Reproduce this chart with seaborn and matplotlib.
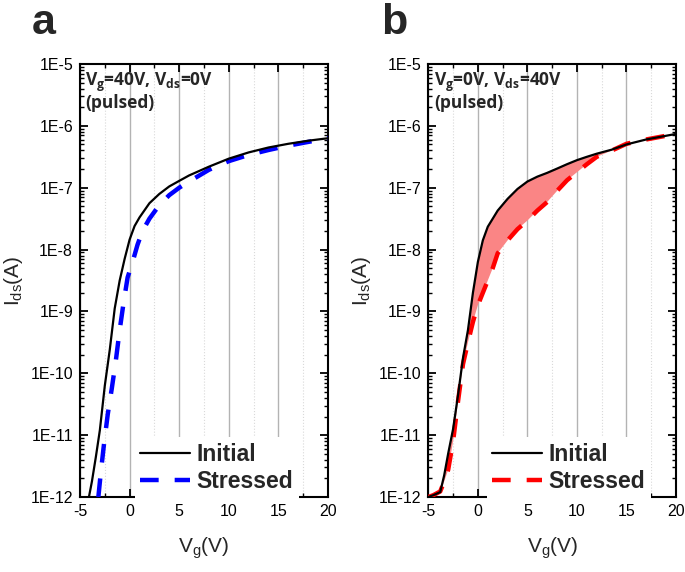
import numpy as np
import matplotlib
matplotlib.use("Agg")
import matplotlib.pyplot as plt
import matplotlib.ticker as mticker
import seaborn as sns

# ---------------- data ----------------
# Panel a: Vg=40V, Vds=0V (pulsed)
vg_a_initial = [-4.1, -3.8, -3.4, -3.0, -2.5, -2.0, -1.5, -1.0, -0.5, 0.0, 0.5, 1.0,
                2.0, 3.0, 4.0, 5.0, 6.0, 8.0, 10.0, 12.0, 14.0, 16.0, 18.0, 20.0]
ids_a_initial = [1.00e-12, 1.78e-12, 4.47e-12, 1.20e-11, 6.31e-11, 2.40e-10, 1.12e-9,
                 3.16e-9, 7.08e-9, 1.45e-8, 2.40e-8, 3.31e-8, 5.62e-8, 7.94e-8,
                 1.05e-7, 1.29e-7, 1.58e-7, 2.19e-7, 2.95e-7, 3.72e-7, 4.47e-7,
                 5.13e-7, 5.75e-7, 6.31e-7]
vg_a_stressed = [-3.15, -2.9, -2.6, -2.2, -1.8, -1.4, -1.0, -0.6, -0.2, 0.3, 0.8, 1.3,
                 2.0, 3.0, 4.0, 5.0, 6.0, 8.0, 10.0, 12.0, 14.0, 16.0, 18.0, 20.0]
ids_a_stressed = [1.00e-12, 2.51e-12, 6.76e-12, 2.19e-11, 5.62e-11, 1.55e-10, 5.01e-10,
                  1.41e-9, 3.55e-9, 6.31e-9, 1.20e-8, 2.00e-8, 3.16e-8, 5.25e-8,
                  7.59e-8, 1.00e-7, 1.26e-7, 1.95e-7, 2.69e-7, 3.39e-7, 4.07e-7,
                  4.79e-7, 5.50e-7, 6.31e-7]

# Panel b: Vg=0V, Vds=40V (pulsed)
vg_b = [-5.0, -4.5, -3.8, -3.4, -3.0, -2.5, -2.0, -1.5, -1.0, -0.5, 0.0, 0.5, 1.0, 1.5,
        2.0, 3.0, 4.0, 5.0, 6.0, 7.0, 8.0, 9.0, 10.0, 11.0, 12.0, 13.5, 15.0, 17.0, 20.0]
ids_b_initial = [1.00e-12, 1.07e-12, 1.20e-12, 2.24e-12, 5.01e-12, 1.26e-11, 4.47e-11,
                 1.78e-10, 5.01e-10, 2.00e-9, 6.31e-9, 1.41e-8, 2.34e-8, 3.16e-8,
                 4.27e-8, 6.61e-8, 9.55e-8, 1.26e-7, 1.51e-7, 1.74e-7, 2.04e-7,
                 2.40e-7, 2.79e-7, 3.16e-7, 3.55e-7, 4.12e-7, 5.01e-7, 6.03e-7, 7.41e-7]
ids_b_stressed = [1.00e-12, 1.07e-12, 1.23e-12, 1.78e-12, 2.75e-12, 7.94e-12, 3.55e-11,
                  1.41e-10, 3.16e-10, 6.76e-10, 1.26e-9, 2.00e-9, 3.16e-9, 5.01e-9,
                  8.71e-9, 1.41e-8, 2.14e-8, 2.95e-8, 4.27e-8, 5.89e-8, 8.91e-8,
                  1.32e-7, 1.78e-7, 2.40e-7, 3.16e-7, 3.98e-7, 5.13e-7, 6.03e-7, 7.41e-7]

series_labels = ["Initial", "Stressed"]
panel_letters = ["a", "b"]
panel_notes = [r"$\mathbf{V_g}$=40V, $\mathbf{V_{ds}}$=0V" + "\n(pulsed)",
               r"$\mathbf{V_g}$=0V, $\mathbf{V_{ds}}$=40V" + "\n(pulsed)"]
x_label = r"$\mathregular{V_g}$(V)"
y_label = r"$\mathregular{I_{ds}}$(A)"

# ---------------- style ----------------
sns.set_theme(style="ticks")
plt.rcParams["font.family"] = ["Liberation Sans", "DejaVu Sans"]
plt.rcParams["mathtext.fontset"] = "custom"
plt.rcParams["mathtext.rm"] = "Liberation Sans"
plt.rcParams["mathtext.it"] = "Liberation Sans"
plt.rcParams["mathtext.bf"] = "Open Sans:bold"

fig = plt.figure(figsize=(6.85, 5.72), dpi=100)
ax_a = fig.add_axes([0.1168, 0.1311, 0.3620, 0.7570])
ax_b = fig.add_axes([0.6253, 0.1311, 0.3616, 0.7570])

panels = [
    (ax_a, vg_a_initial, ids_a_initial, vg_a_stressed, ids_a_stressed, "#0000ff", 0.22),
    (ax_b, vg_b, ids_b_initial, vg_b, ids_b_stressed, "#ff0000", 0.235),
]

for i, (ax, xi, yi, xs, ys, scol, leg_x) in enumerate(panels):
    if i == 1:
        ax.fill_between(vg_b, ids_b_initial, ids_b_stressed,
                        where=np.array(ids_b_initial) >= np.array(ids_b_stressed),
                        interpolate=True, color="#fa8585", lw=0, zorder=2)
    sns.lineplot(x=xi, y=yi, ax=ax, color="black", lw=1.6, sort=False,
                 estimator=None, label=series_labels[0], zorder=4)
    sns.lineplot(x=xs, y=ys, ax=ax, color=scol, lw=3.2, sort=False,
                 estimator=None, label=series_labels[1], zorder=3,
                 ls=(0, (4.2, 3.6)))

    ax.set_yscale("log")
    ax.set_xlim(-5, 20)
    ax.set_ylim(1e-12, 1e-5)
    ax.xaxis.set_major_locator(mticker.MultipleLocator(5))
    ax.xaxis.set_minor_locator(mticker.MultipleLocator(2.5))
    ax.yaxis.set_major_locator(mticker.LogLocator(base=10, numticks=10))
    ax.yaxis.set_minor_locator(mticker.LogLocator(base=10, subs=np.arange(2, 10), numticks=20))
    ax.yaxis.set_minor_formatter(mticker.NullFormatter())
    ax.yaxis.set_major_formatter(mticker.FuncFormatter(
        lambda v, p: "1E{:d}".format(int(round(np.log10(v))))))
    ax.xaxis.set_major_formatter(mticker.FuncFormatter(lambda v, p: "{:g}".format(v)))

    ax.tick_params(which="both", direction="in", top=True, right=True,
                   labelsize=11.5, colors="black", pad=5)
    ax.tick_params(which="major", length=6, width=1.3)
    ax.tick_params(which="minor", length=3, width=1.0)
    for sp in ax.spines.values():
        sp.set_color("black")
        sp.set_linewidth(1.5)

    ax.grid(axis="x", which="major", color="#b3b3b3", lw=1.0, ls="-", zorder=0)
    ax.grid(axis="x", which="minor", color="#d9d9d9", lw=0.8, ls=":", zorder=0)
    ax.grid(axis="y", which="both", visible=False)
    ax.set_axisbelow(True)

    ax.set_xlabel(x_label, fontsize=15, labelpad=12)
    ax.set_ylabel(y_label, fontsize=15, labelpad=4)

    ax.text(0.022, 0.985, panel_notes[i], transform=ax.transAxes, ha="left", va="top",
            fontsize=12.5, fontweight="bold", family="Open Sans", linespacing=1.05,
            zorder=6)

    leg = ax.legend(loc="lower left", bbox_to_anchor=(leg_x, -0.005),
                    prop={"family": "Liberation Sans", "weight": "bold", "size": 16.5},
                    handlelength=2.15, handletextpad=0.3, borderpad=0.25,
                    labelspacing=0.2, frameon=True, fancybox=False,
                    borderaxespad=0.0)
    frame = leg.get_frame()
    frame.set_facecolor("white")
    frame.set_edgecolor("none")
    frame.set_alpha(1.0)
    leg.set_zorder(5)

fig.text(0.046, 0.995, panel_letters[0], fontsize=31, fontweight="bold",
         ha="left", va="top")
fig.text(0.556, 0.995, panel_letters[1], fontsize=31, fontweight="bold",
         ha="left", va="top")

fig.savefig("out.png", dpi=100)
